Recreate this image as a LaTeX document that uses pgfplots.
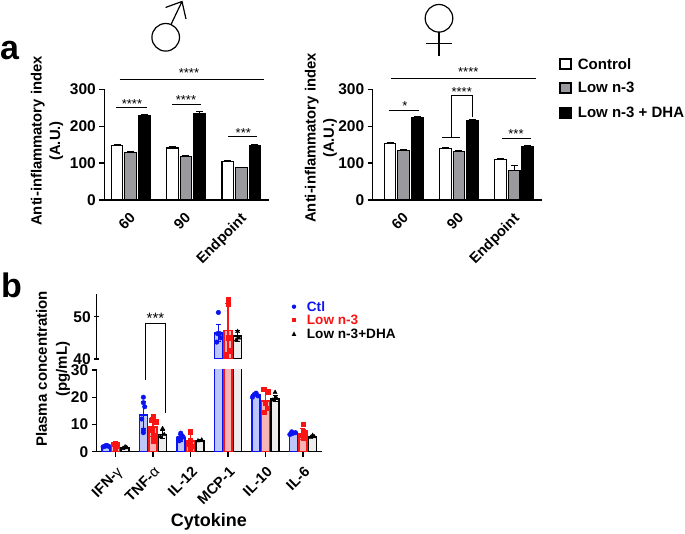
\documentclass[border=0pt]{standalone}
\usepackage{pgfplots}
\pgfplotsset{compat=1.18}
\usepackage{fontspec}
\setmainfont{Liberation Sans}
\definecolor{barblue}{HTML}{BCC6F8}
\definecolor{barred}{HTML}{F8B4B4}
\definecolor{bargray}{HTML}{EDEDED}
\definecolor{lowgray}{HTML}{9A9A9E}
\definecolor{pblue}{HTML}{0A14F0}
\definecolor{pred}{HTML}{FA1414}
\pgfplotsset{
  common/.style={
    scale only axis, clip=true,
    axis lines=left, axis line style={-, line width=1.4pt, black},
    tick style={line width=1.3pt, black},
    tick align=outside, major tick length=5pt,
    /pgf/number format/assume math mode=true,
    yticklabel style={font=\fontsize{15.5}{15.5}\selectfont\bfseries},
    xticklabel style={font=\fontsize{14.6}{14.6}\selectfont\bfseries},
    ytick pos=left, xtick pos=bottom,
  },
  panela/.style={
    common, width=#1, height=110.7pt, ymin=0, ymax=300, ytick={0,100,200,300},
    xtick={0,1,2}, xticklabels={60,90,Endpoint},
    x tick style={draw=none}, major tick length=5pt,
    xticklabel style={rotate=45, anchor=north east, inner sep=1pt, yshift=-2.5pt, xshift=-5pt},
    ylabel style={font=\fontsize{14.8}{18.3}\selectfont\bfseries, align=center, anchor=center},
  },
  bA/.style={ybar, bar width=11.6pt, bar shift=0pt, draw=black, line width=1.2pt, fill=white,
    error bars/.cd, y dir=plus, y explicit, error bar style={line width=1pt, black}, error mark options={rotate=90, mark size=3.5pt, line width=1pt}, /pgfplots/.cd},
  bB/.style={bA, fill=lowgray},
  bC/.style={bA, fill=black},
  bx/.style n args={2}{ybar, bar width=8pt, bar shift=0pt, draw=#1, fill=#2, line width=1.5pt,
    error bars/.cd, y dir=both, y explicit, error bar style={line width=1.2pt, #1}, error mark options={rotate=90, mark size=2.5pt, line width=1.2pt, #1}, /pgfplots/.cd},
  ctl/.style={bx={pblue}{barblue}},
  low/.style={bx={pred}{barred}},
  dha/.style={bx={black}{bargray}},
  pc/.style={only marks, mark=*, pblue, mark size=2.3pt},
  pr/.style={only marks, mark=square*, pred, mark size=2.2pt},
  pk/.style={only marks, mark=triangle*, black, mark size=2.4pt},
}
\newcommand{\stars}[3]{\node[font=\fontsize{13}{13}\selectfont, inner sep=0pt] at (#1,#2) {#3};}
\begin{document}
\begin{tikzpicture}[x=1pt,y=1pt]
\path[use as bounding box] (0,0) rectangle (685,533);

% ---- panel a, male
\begin{axis}[panela=165pt, at={(104.3pt,333pt)}, anchor=south west,
  xmin=-0.477, xmax=2.506,
  ylabel={Anti-inflammatory index\\(A.U.)},
  ylabel style={at={(axis description cs:-0.347,0.533)}}]
\addplot[bA] coordinates {(-0.246,147) +- (0,3) (0.754,141) +- (0,4) (1.754,104) +- (0,2)};
\addplot[bB] coordinates {(0,129) +- (0,2) (1,118) +- (0,2) (2,87) +- (0,2)};
\addplot[bC] coordinates {(0.246,228) +- (0,4) (1.246,235) +- (0,5) (2.246,147) +- (0,3)};
\end{axis}

% ---- panel a, female
\begin{axis}[panela=169.6pt, at={(372.7pt,333pt)}, anchor=south west,
  xmin=-0.56, xmax=2.507,
  ylabel={Anti-inflammatory index\\(A.U.)},
  ylabel style={at={(axis description cs:-0.305,0.56)}}]
\addplot[bA] coordinates {(-0.246,153) +- (0,2) (0.754,139) +- (0,3) (1.754,109) +- (0,3)};
\addplot[bB] coordinates {(0,135) +- (0,2) (1,131) +- (0,3) (2,81) +- (0,13)};
\addplot[bC] coordinates {(0.246,224) +- (0,2) (1.246,215) +- (0,4) (2.246,144) +- (0,3)};
\end{axis}

% ---- panel b, lower part of the broken axis
\begin{axis}[common, width=225.3pt, height=81.7pt, at={(96.7pt,81.3pt)}, anchor=south west,
  xmin=-0.501, xmax=5.507, ymin=0, ymax=30, ytick={0,10,20,30},
  xtick={0,1,2,3,4,5},
  xticklabels={IFN-{\mdseries γ},TNF-{\mdseries α},IL-12,MCP-1,IL-10,IL-6},
  xticklabel style={rotate=45, anchor=north east, inner sep=1pt, yshift=-5.5pt, xshift=-5pt},
  ylabel={Plasma concentration\\(pg/mL)},
  ylabel style={font=\fontsize{15}{20}\selectfont\bfseries, align=center, anchor=center, at={(axis description cs:-0.194,1.012)}},
  xlabel={Cytokine},
  xlabel style={font=\fontsize{18}{18}\selectfont\bfseries, anchor=center, at={(axis description cs:0.498,-0.86)}}]
\addplot[ctl] coordinates {(-0.256,2.0) +- (0,0.2) (0.744,13.5) +- (0,5) (1.744,5) +- (0,1.2) (2.744,46.1) +- (0,2) (3.744,21) +- (0,0.5) (4.744,7) +- (0,0.4)};
\addplot[low] coordinates {(0,2.2) +- (0,0.6) (1,9) +- (0,3.5) (2,4) +- (0,3) (3,46.7) +- (0,6.5) (4,18.7) +- (0,3.5) (5,6.5) +- (0,2)};
\addplot[dha] coordinates {(0.256,1.5) +- (0,0.3) (1.256,6.3) +- (0,1.5) (2.256,4) +- (0,0.3) (3.256,45.4) +- (0,1.3) (4.256,19.5) +- (0,1) (5.256,5.4) +- (0,0.3)};
\addplot[pc] coordinates {(-0.33,1.8) (-0.28,2.0) (-0.22,2.2) (-0.18,2.0) (-0.25,2.3)
  (0.744,7) (0.744,8) (0.70,12) (0.78,16.5) (0.744,18) (0.744,20)
  (1.70,4) (1.74,4.5) (1.68,5) (1.80,5.5) (1.76,6) (1.74,6.8)
  (3.65,20) (3.80,20.5) (3.70,21) (3.75,21.5)
  (4.65,6.3) (4.72,6.7) (4.80,7) (4.70,7.3)};
\addplot[pr] coordinates {(0,1.5) (0.05,2.0) (-0.05,2.8) (0,3.0) (0.05,2.5)
  (1,4) (1,6) (0.97,8) (1.08,11) (0.95,11.5) (1,13)
  (2,1) (2.03,2) (1.95,3) (2,4) (2,7.3)
  (3.95,14.5) (4.05,16) (4,18) (4.08,22) (3.95,23)
  (5,5) (4.95,6) (5.05,7) (5,7.5) (5,10)};
\addplot[pk] coordinates {(0.2,1.2) (0.3,1.5) (0.256,1.8) (1.2,5.5) (1.3,6.3) (1.256,8.5) (2.2,4) (2.3,4.3)
  (4.2,19) (4.3,19.5) (4.256,21.8) (5.2,5.2) (5.3,5.5) (5.256,6)};
\end{axis}

% ---- panel b, upper part of the broken axis
\begin{axis}[common, width=225.3pt, height=65pt, at={(96.7pt,174pt)}, anchor=south west,
  axis x line=none, axis y line=left, y axis line style={-},
  xmin=-0.501, xmax=5.507, ymin=40, ymax=55.37, ytick={40,50}, xtick=\empty]
\addplot[ctl] coordinates {(2.744,46.1) +- (0,2)};
\addplot[low] coordinates {(3,46.7) +- (0,6.5)};
\addplot[dha] coordinates {(3.256,45.4) +- (0,1.3)};
\addplot[pc] coordinates {(2.70,44) (2.80,45) (2.72,46) (2.78,46) (2.744,51)};
\addplot[pr] coordinates {(2.95,41) (3.05,42) (3,45) (3,53) (3,54)};
\addplot[pk] coordinates {(3.22,44.5) (3.29,45) (3.256,46.5)};
\end{axis}

% everything below is annotation, in reference pixels (origin top left)
\begin{scope}[shift={(0pt,533pt)}, y=-1pt, x=1pt]
\node[font=\fontsize{34}{34}\selectfont\bfseries, anchor=base west, inner sep=0pt] at (0,60) {a};
\node[font=\fontsize{34}{34}\selectfont\bfseries, anchor=base west, inner sep=0pt] at (1,298) {b};

% male symbol
\draw[line width=1.2pt] (165.7,37.3) circle[radius=13.8];
\draw[line width=1.2pt] (171,24.5) -- (182,1.5) (165.5,7.5) -- (182,1.5) -- (186,19);
% female symbol
\draw[line width=1.2pt] (439,18.3) circle[radius=13.8];
\draw[line width=1.2pt] (439,32) -- (439,56) (425.6,43.3) -- (452,43.3);

\begin{scope}[line width=1pt]
\draw (119.7,79.3) -- (264.3,79.3);
\draw (116.3,107.3) -- (146.7,107.3);
\draw (172,104.3) -- (201,104.3);
\draw (228.3,136.3) -- (257.3,136.3);
\draw (391,78.7) -- (535.7,78.7);
\draw (388.7,111) -- (418.7,111);
\draw (442,137.3) -- (460.3,137.3);
\draw (451.7,137.3) -- (451.7,95.7) -- (472.7,95.7) -- (472.7,116.7);
\draw (501.7,138.7) -- (530.7,138.7);
\draw[line width=1.3pt] (145.7,380) -- (145.7,323.3) -- (165.3,323.3) -- (165.3,413.3);
\end{scope}
\stars{189}{73}{****}
\stars{132}{104}{****}
\stars{186}{100.5}{****}
\stars{243.3}{133.5}{***}
\stars{468.3}{72}{****}
\stars{405}{106}{*}
\stars{461.7}{92}{****}
\stars{516}{134}{***}
\node[font=\fontsize{15}{15}\selectfont, inner sep=0pt] at (155.5,318) {***};

% legend of panel a
\draw[line width=1.1pt, fill=white] (560,59) rectangle (571,69);
\draw[line width=1.1pt, fill=lowgray] (560,83) rectangle (571,93);
\draw[line width=1.1pt, fill=black] (560,108) rectangle (571,118);
\begin{scope}[every node/.style={font=\fontsize{15}{15}\selectfont\bfseries, anchor=west, inner sep=0pt}]
\node at (577.7,64) {Control};
\node at (577.7,87.7) {Low n-3};
\node at (577.7,112.7) {Low n-3 + DHA};
\end{scope}

% legend of panel b
\fill[pblue] (294,306.7) circle[radius=2.2];
\fill[pred] (291.8,317.8) rectangle (296.2,322.2);
\fill[black] (291.7,336) -- (296.3,336) -- (294,331.5) -- cycle;
\begin{scope}[every node/.style={font=\fontsize{13.6}{13.6}\selectfont\bfseries, anchor=west, inner sep=0pt}]
\node[text=pblue] at (306.7,306.7) {Ctl};
\node[text=pred] at (306.7,320) {Low n-3};
\node at (306.7,334) {Low n-3+DHA};
\end{scope}
\end{scope}
\end{tikzpicture}
\end{document}
